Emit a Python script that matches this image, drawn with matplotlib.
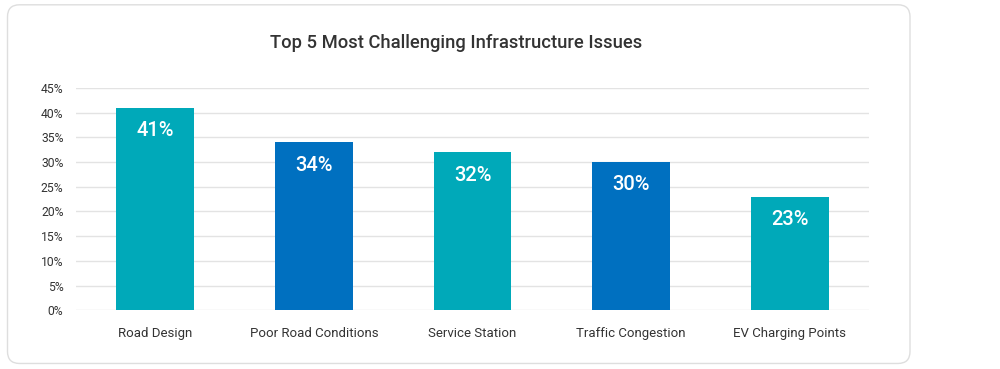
import matplotlib
matplotlib.use('Agg')
import matplotlib.pyplot as plt
from matplotlib.patches import FancyBboxPatch

categories = ["Road Design", "Poor Road Conditions", "Service Station",
              "Traffic Congestion", "EV Charging Points"]
values = [41, 34, 32, 30, 23]
bar_colors = ["#00A9B9", "#0070C0", "#00A9B9", "#0070C0", "#00A9B9"]
y_ticks = [0, 5, 10, 15, 20, 25, 30, 35, 40, 45]

plt.rcParams['font.family'] = ['Roboto', 'DejaVu Sans']

fig = plt.figure(figsize=(10, 3.69), dpi=100)

# rounded card behind the chart
card = FancyBboxPatch((0.0075, 0.015), 0.9025, 0.972,
                      boxstyle="round,pad=0,rounding_size=0.012",
                      transform=fig.transFigure, facecolor="white",
                      edgecolor="#dedede", linewidth=1.0, zorder=-5,
                      mutation_aspect=1000 / 369)
fig.patches.append(card)

ax = fig.add_axes([0.076, 0.159, 0.793, 0.603])
ax.set_facecolor("none")
ax.set_zorder(2)

x = range(len(categories))
bars = ax.bar(x, values, width=0.49, color=bar_colors, zorder=3)

for xi, v in zip(x, values):
    ax.annotate(f"{v}%", (xi, v), xytext=(0, -16.5), textcoords="offset points",
                ha="center", va="center", color="white", fontsize=14.5,
                fontweight="medium")

ax.set_xlim(-0.5, len(categories) - 0.5)
ax.set_ylim(0, 45)
ax.set_yticks(y_ticks)
ax.set_yticklabels([f"{t}%" for t in y_ticks])
ax.set_xticks(list(x))
ax.set_xticklabels(categories)

ax.grid(axis="y", color="#e3e3e3", linewidth=1.0, zorder=0)
ax.set_axisbelow(True)
for s in ax.spines.values():
    s.set_visible(False)
ax.tick_params(axis="y", length=0, pad=9, labelsize=8.7, labelcolor="#333333")
ax.tick_params(axis="x", length=0, pad=12, labelsize=9.5, labelcolor="#333333")

fig.text(0.456, 0.883, "Top 5 Most Challenging Infrastructure Issues",
         ha="center", va="center", fontsize=13.2, color="#333333", fontweight="medium")

fig.savefig("out.png", dpi=100)
